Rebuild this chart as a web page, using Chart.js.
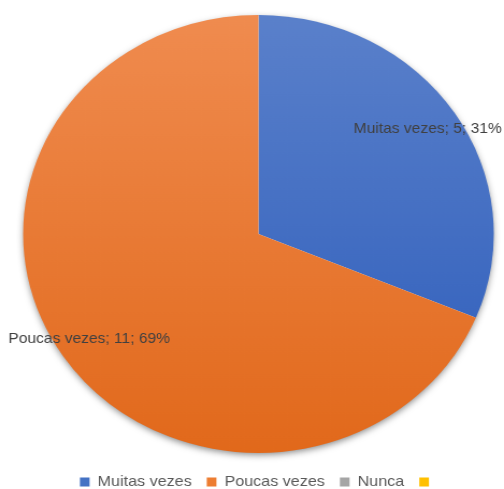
<!DOCTYPE html>
<html>
<head>
<meta charset="utf-8">
<script src="https://cdn.jsdelivr.net/npm/chart.js@4.4.0/dist/chart.umd.min.js"></script>
<style>
  html, body { margin: 0; padding: 0; background: #fff; overflow: hidden; }
  #pie { display: block; }
</style>
</head>
<body>
<!-- the source picture is a little wider than tall, so the canvas is stretched sideways -->
<canvas id="pie" width="469" height="489" style="width:504px;height:489px"></canvas>
<script>
const categories = ['Muitas vezes', 'Poucas vezes', 'Nunca', ''];
const counts = [5, 11, 0, 0];
const topColors = ['#5b81cb', '#f08c50', '#a5a5a5', '#ffc000'];
const bottomColors = ['#2b5bba', '#e1681a', '#a5a5a5', '#ffc000'];
const legendColors = ['#4472c4', '#ed7d31', '#a5a5a5', '#ffc000'];

const FONT = '"Liberation Sans", Arial, sans-serif';

function sliceFill(context) {
  const i = context.dataIndex;
  const area = context.chart.chartArea;
  if (!area) return legendColors[i];
  const g = context.chart.ctx.createLinearGradient(0, area.top, 0, area.bottom);
  g.addColorStop(0, topColors[i]);
  g.addColorStop(1, bottomColors[i]);
  return g;
}

// soft drop shadow under the whole pie
const pieShadow = {
  id: 'pieShadow',
  beforeDatasetsDraw(chart) {
    const arc = chart.getDatasetMeta(0).data[0];
    if (!arc) return;
    const { x, y, outerRadius } = arc.getProps(['x', 'y', 'outerRadius'], true);
    const c = chart.ctx;
    c.save();
    c.shadowColor = 'rgba(0, 0, 0, 0.5)';
    c.shadowBlur = 7;
    c.shadowOffsetY = 2.5;
    c.beginPath();
    c.arc(x, y, outerRadius - 1, 0, Math.PI * 2);
    c.fillStyle = '#fff';
    c.fill();
    c.restore();
  },
};

// "name; value; percent" labels inside the slices
const sliceLabels = {
  id: 'sliceLabels',
  afterDatasetsDraw(chart) {
    const meta = chart.getDatasetMeta(0);
    const total = counts.reduce((a, b) => a + b, 0);
    const c = chart.ctx;
    c.save();
    c.font = '14.5px ' + FONT;
    c.fillStyle = '#404040';
    c.textAlign = 'center';
    c.textBaseline = 'middle';
    meta.data.forEach((arc, i) => {
      if (!counts[i]) return;
      const { x, y, startAngle, endAngle, outerRadius } =
        arc.getProps(['x', 'y', 'startAngle', 'endAngle', 'outerRadius'], true);
      const mid = (startAngle + endAngle) / 2;
      const r = outerRadius * 0.865;
      const pct = Math.round(counts[i] / total * 100);
      c.fillText(`${categories[i]}; ${counts[i]}; ${pct}%`, x + Math.cos(mid) * r, y + Math.sin(mid) * r);
    });
    c.restore();
  },
};

new Chart(document.getElementById('pie'), {
  type: 'pie',
  data: {
    labels: categories,
    datasets: [{
      data: counts,
      backgroundColor: sliceFill,
      borderWidth: 0,
    }],
  },
  options: {
    responsive: false,
    animation: false,
    layout: { padding: { top: 7.5, left: 21.5, right: 9.5, bottom: -10.5 } },
    plugins: {
      tooltip: { enabled: false },
      legend: {
        position: 'bottom',
        labels: {
          boxWidth: 9,
          boxHeight: 9,
          padding: 14,
          color: '#595959',
          font: { size: 15, family: FONT },
          generateLabels(chart) {
            const items = Chart.overrides.pie.plugins.legend.labels.generateLabels(chart);
            return items.map((it, i) => Object.assign(it, {
              fillStyle: legendColors[i], strokeStyle: legendColors[i], lineWidth: 0,
            }));
          },
        },
      },
    },
  },
  plugins: [pieShadow, sliceLabels],
});
</script>
</body>
</html>
